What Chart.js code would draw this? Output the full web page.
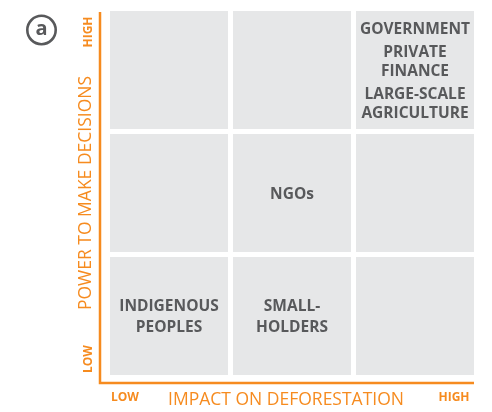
<!DOCTYPE html>
<html><head><meta charset="utf-8">
<script src="https://cdn.jsdelivr.net/npm/chart.js@4/dist/chart.umd.min.js"></script>
<style>html,body{margin:0;padding:0;background:#fff;}canvas{display:block;}</style>
</head><body>
<canvas id="c" width="492" height="412"></canvas>
<script>
// ---- data ----
const levels = ['LOW', 'MEDIUM', 'HIGH'];
const actors = ['GOVERNMENT', 'PRIVATE FINANCE', 'LARGE-SCALE AGRICULTURE', 'NGOs', 'INDIGENOUS PEOPLES', 'SMALL-HOLDERS'];
const actorLines = [['GOVERNMENT'], ['PRIVATE', 'FINANCE'], ['LARGE-SCALE', 'AGRICULTURE'], ['NGOs'], ['INDIGENOUS', 'PEOPLES'], ['SMALL-', 'HOLDERS']];
const impact = [2, 2, 2, 1, 0, 1];   // index into levels (x)
const power  = [2, 2, 2, 1, 0, 0];   // index into levels (y)
const xTitle = 'IMPACT ON DEFORESTATION';
const yTitle = 'POWER TO MAKE DECISIONS';
const panelLetter = 'a';

const ORANGE = '#F68B1F';
const GREY_TXT = '#58595B';
const CELL = '#E6E7E8';

const cellPts = [];
levels.forEach((_, i) => levels.forEach((_, j) => cellPts.push({x: i + 0.5, y: j + 0.5})));

const matrixPlugin = {
  id: 'matrix',
  beforeDatasetsDraw(chart) {
    const {ctx, scales: {x, y}} = chart;
    const gap = 5;
    ctx.save();
    // cells
    cellPts.forEach(p => {
      const l = x.getPixelForValue(p.x - 0.5) + gap / 2;
      const r = x.getPixelForValue(p.x + 0.5) - gap / 2;
      const t = y.getPixelForValue(p.y + 0.5) + gap / 2;
      const b = y.getPixelForValue(p.y - 0.5) - gap / 2;
      ctx.fillStyle = CELL;
      ctx.fillRect(l, t, r - l, b - t);
    });
    // actor labels grouped by cell
    ctx.fillStyle = GREY_TXT;
    ctx.font = 'bold 15.5px "Open Sans"';
    ctx.textAlign = 'center';
    ctx.textBaseline = 'middle';
    cellPts.forEach(p => {
      const ci = p.x - 0.5, cj = p.y - 0.5;
      const groups = [];
      actors.forEach((a, k) => { if (impact[k] === ci && power[k] === cj) groups.push(actorLines[k]); });
      if (!groups.length) return;
      const multi = groups.length > 1;
      const lh = multi ? 18.5 : 21, gg = multi ? 5 : 0;
      let total = 0;
      groups.forEach((g, gi) => { total += (g.length - 1) * lh + (gi > 0 ? lh + gg : 0); });
      const cx = x.getPixelForValue(p.x);
      let yy = y.getPixelForValue(p.y) - total / 2 + 1.5;
      groups.forEach((g, gi) => {
        if (gi > 0) yy += lh + gg;
        g.forEach((line, li) => {
          if (li > 0) yy += lh;
          ctx.fillText(line, cx, yy);
        });
      });
    });
    // axes
    const ax = x.left - 7.5, ay = y.bottom + 5.5;
    ctx.strokeStyle = ORANGE;
    ctx.lineWidth = 2.5;
    ctx.beginPath();
    ctx.moveTo(ax, y.top + 3.5);
    ctx.lineTo(ax, ay);
    ctx.lineTo(x.right - 2.5, ay);
    ctx.stroke();
    // axis end labels
    ctx.fillStyle = ORANGE;
    ctx.font = 'bold 12px "Open Sans"';
    ctx.fillText(levels[0], 125, 398);
    ctx.fillText(levels[2], 454, 398);
    ctx.save();
    ctx.translate(89, 32); ctx.rotate(-Math.PI / 2); ctx.fillText(levels[2], 0, 0); ctx.restore();
    ctx.save();
    ctx.translate(89, 359); ctx.rotate(-Math.PI / 2); ctx.fillText(levels[0], 0, 0); ctx.restore();
    // axis titles
    ctx.font = '17.5px "Open Sans"';
    ctx.fillText(xTitle, 286, 400);
    ctx.save();
    ctx.translate(86, 193); ctx.rotate(-Math.PI / 2); ctx.fillText(yTitle, 0, 0); ctx.restore();
    // panel letter
    ctx.strokeStyle = GREY_TXT;
    ctx.lineWidth = 2.6;
    ctx.beginPath(); ctx.arc(41.5, 30, 14.2, 0, Math.PI * 2); ctx.stroke();
    ctx.fillStyle = GREY_TXT;
    ctx.font = 'bold 20px "Open Sans"';
    ctx.fillText(panelLetter, 41.5, 29);
    ctx.restore();
  }
};

new Chart(document.getElementById('c'), {
  type: 'scatter',
  data: { datasets: [{ data: cellPts, pointRadius: 0, pointHoverRadius: 0 }] },
  options: {
    responsive: false,
    animation: false,
    layout: { padding: { left: 107.5, right: 15.5, top: 8.5, bottom: 34.5 } },
    plugins: { legend: { display: false }, tooltip: { enabled: false } },
    scales: {
      x: { type: 'linear', min: 0, max: 3, display: false },
      y: { type: 'linear', min: 0, max: 3, display: false }
    }
  },
  plugins: [matrixPlugin]
});
</script>
</body></html>
